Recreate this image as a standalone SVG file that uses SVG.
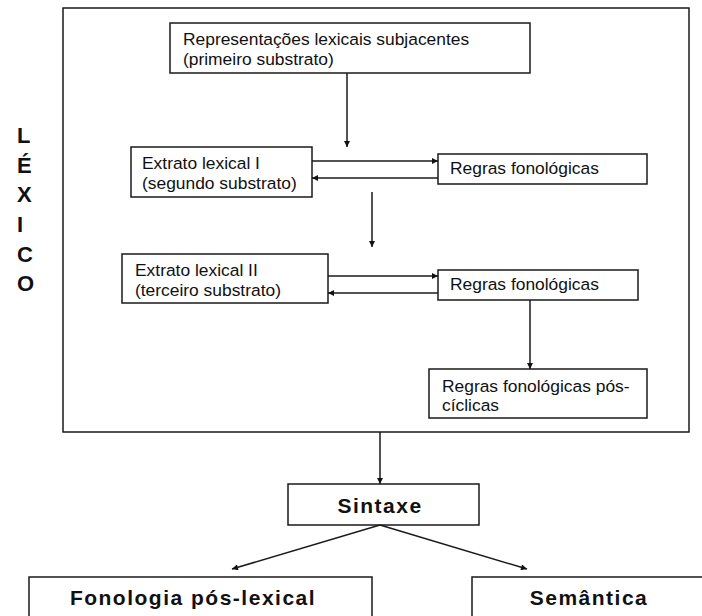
<svg xmlns="http://www.w3.org/2000/svg" width="702" height="616" viewBox="0 0 702 616">
<style>
.box{fill:#fff;stroke:#1a1a1a;stroke-width:1.5}
.t{font-family:"Liberation Sans",Arial,sans-serif;font-size:17.4px;fill:#111}
.b{font-family:"Liberation Sans",Arial,sans-serif;font-size:21px;font-weight:bold;letter-spacing:1.5px;fill:#111;text-anchor:middle}
.lx{font-family:"Liberation Sans",Arial,sans-serif;font-size:22px;font-weight:bold;fill:#111}
.c{fill:none;stroke:#1a1a1a;stroke-width:1.5;marker-end:url(#ah)}
</style>
<defs>
<marker id="ah" viewBox="0 0 10 10" refX="10" refY="5" markerWidth="7" markerHeight="6" markerUnits="userSpaceOnUse" orient="auto">
<path d="M0,0 L10,5 L0,10 z" fill="#111"/>
</marker>
</defs>
<rect width="702" height="616" fill="#fff"/>
<g id="lexico">
<rect class="box" x="63" y="8" width="626" height="424"/>
<text class="lx" x="17" y="143">L</text>
<text class="lx" x="17" y="173">É</text>
<text class="lx" x="17" y="202">X</text>
<text class="lx" x="17" y="232">I</text>
<text class="lx" x="17" y="262">C</text>
<text class="lx" x="17" y="291">O</text>
</g>
<g id="representacoes">
<rect class="box" x="170" y="23" width="360" height="50"/>
<text class="t" x="183" y="45">Representações lexicais subjacentes</text>
<text class="t" x="183" y="65">(primeiro substrato)</text>
</g>
<g id="extrato1">
<rect class="box" x="131" y="147" width="181" height="50"/>
<text class="t" x="142" y="169">Extrato lexical I</text>
<text class="t" x="142" y="189">(segundo substrato)</text>
</g>
<g id="regras1">
<rect class="box" x="438" y="154" width="209" height="30"/>
<text class="t" x="450" y="174">Regras fonológicas</text>
</g>
<g id="extrato2">
<rect class="box" x="122" y="254" width="206" height="49"/>
<text class="t" x="135" y="276">Extrato lexical II</text>
<text class="t" x="135" y="296">(terceiro substrato)</text>
</g>
<g id="regras2">
<rect class="box" x="438" y="270" width="200" height="30"/>
<text class="t" x="450" y="290">Regras fonológicas</text>
</g>
<g id="poscíclicas">
<rect class="box" x="429" y="369" width="218" height="49"/>
<text class="t" x="442" y="392">Regras fonológicas pós-</text>
<text class="t" x="442" y="411">cíclicas</text>
</g>
<g id="sintaxe">
<rect class="box" x="288" y="484" width="191" height="41"/>
<text class="b" x="380" y="513">Sintaxe</text>
</g>
<g id="fonologia">
<rect class="box" x="29" y="577" width="343" height="60"/>
<text class="b" x="193" y="605">Fonologia pós-lexical</text>
</g>
<g id="semantica">
<rect class="box" x="472" y="577" width="260" height="60"/>
<text class="b" x="589" y="605">Semântica</text>
</g>
<g id="connectors">
<line class="c" x1="347" y1="73" x2="347" y2="147"/>
<line class="c" x1="312" y1="161" x2="438" y2="161"/>
<line class="c" x1="438" y1="178" x2="312" y2="178"/>
<line class="c" x1="372" y1="192" x2="372" y2="247"/>
<line class="c" x1="328" y1="276" x2="438" y2="276"/>
<line class="c" x1="438" y1="293" x2="328" y2="293"/>
<line class="c" x1="530" y1="300" x2="530" y2="369"/>
<line class="c" x1="380" y1="432" x2="380" y2="484"/>
<line class="c" x1="380" y1="525" x2="232" y2="569"/>
<line class="c" x1="380" y1="525" x2="527" y2="569"/>
</g>
</svg>
